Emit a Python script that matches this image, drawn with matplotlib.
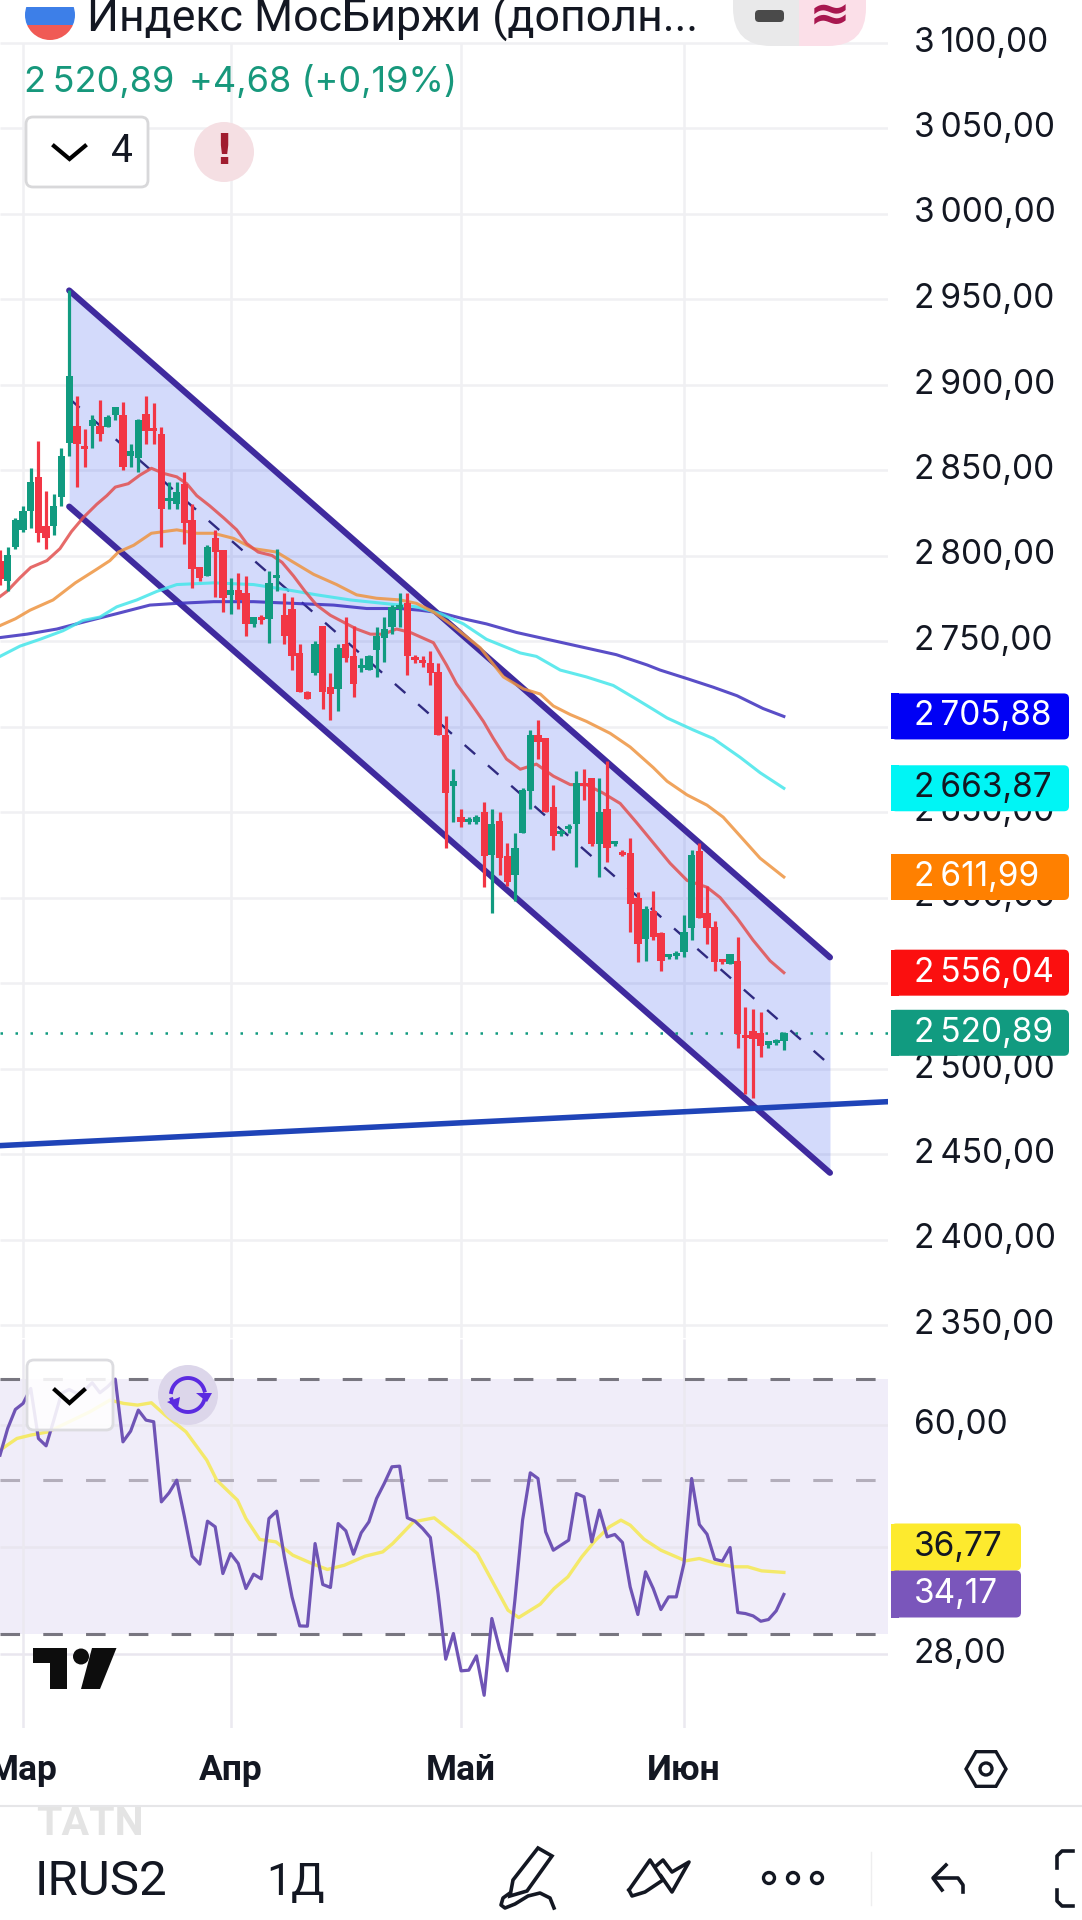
import numpy as np
import matplotlib
matplotlib.use("Agg")
import matplotlib.pyplot as plt
from matplotlib.patches import Circle, FancyBboxPatch, Polygon, Rectangle, RegularPolygon
from matplotlib.ticker import NullLocator

# Daily candles, IMOEX additional session
opens = [2797,2785,2805,2815,2826,2846,2817,2817,2834,2866,
         2876,2863,2876,2876,2875,2882,2882,2858,2857,2883,
         2874,2871,2832,2830,2842,2821,2793,2788,2810,2803,
         2777,2780,2778,2760,2763,2763,2787,2765,2769,2743,
         2720,2731,2759,2723,2722,2748,2741,2734,2733,2745,
         2752,2758,2769,2772,2740,2738,2737,2732,2695,2665,
         2647,2644,2644,2650,2625,2645,2624,2613,2638,2662,
         2695,2693,2653,2637,2640,2643,2667,2670,2631,2652,
         2631,2626,2626,2600,2576,2592,2579,2565,2566,2568,
         2582,2627,2591,2583,2563,2561,2563,2519,2522,2521,
         2514,2515,2516.21]
closes = [2786,2800,2821,2826,2843,2813,2810,2829,2858,2905,
          2865,2862,2879,2871,2881,2887,2852,2861,2879,2873,
          2873,2827,2833,2837,2819,2792,2787,2805,2802,2775,
          2780,2774,2760,2764,2762,2784,2788,2753,2741,2720,
          2716,2748,2720,2719,2746,2740,2725,2735,2741,2753,
          2757,2770,2770,2741,2739,2737,2731,2695,2661,2668,
          2644,2646,2647,2624,2643,2623,2609,2629,2663,2695,
          2691,2650,2636,2638,2641,2667,2665,2631,2650,2629,
          2632,2625,2596,2573,2593,2577,2563,2566,2567,2580,
          2625,2588,2582,2562,2562,2567,2520,2518,2517,2513,
          2514.5,2516,2520.89]
highs = [2803,2805,2822,2829,2851,2867,2838,2836,2863,2955,
         2893,2874,2882,2891,2882,2887,2890,2865,2880,2893,
         2889,2875,2843,2843,2849,2830,2793,2806,2815,2803,
         2787,2790,2788,2764,2765,2791,2804,2778,2776,2748,
         2721,2750,2759,2731,2748,2764,2759,2740,2742,2758,
         2764,2771,2778,2778,2742,2741,2744,2737,2706,2675,
         2652,2647,2648,2656,2652,2650,2632,2638,2664,2698,
         2704,2693,2666,2640,2643,2674,2675,2670,2670,2680,
         2633,2628,2635,2603,2595,2604,2580,2567,2569,2590,
         2628,2632,2607,2586,2564,2567,2577,2536,2535,2533,
         2516,2517,2521.5]
lows = [2783,2779,2804,2814,2816,2808,2804,2812,2829,2858,
        2840,2852,2863,2867,2875,2879,2850,2852,2849,2865,
        2865,2805,2827,2827,2807,2781,2785,2788,2776,2767,
        2766,2769,2753,2758,2760,2749,2779,2748,2733,2720,
        2716,2730,2710,2704,2709,2738,2717,2732,2733,2729,
        2738,2754,2758,2730,2737,2735,2724,2695,2629,2644,
        2641,2643,2643,2606,2591,2613,2607,2598,2638,2652,
        2681,2650,2628,2636,2638,2618,2657,2630,2612,2621,
        2630,2624,2580,2562,2563,2575,2557,2564,2564,2565,
        2575,2588,2573,2557,2561,2561,2512,2485,2483,2507,
        2512,2514,2511]

# Moving averages, (bar, value)
ma_red_x = [0,0.9,2.6,4,6.1,7.8,9.3,10.8,12.6,13.9,15,16.7,18.2,19.7,21.3,23,24.3,25.6,27.3,29.1,
            30.8,32.1,33.6,35.4,36.7,38.2,39.7,41.2,43,44.7,46.4,48.2,49.9,51.6,53.4,56.4,58.1,59.4,
            61.2,62.9,64.2,65.9,67.7,69.8,72,74.2,76.3,78.5,80.7,82.8,85,87.2,89.4,92,93.7,95.9,98,100.2,102]
ma_red_y = [2776,2779,2787,2793,2797,2804,2814,2822,2830,2835,2840,2842,2847,2851,2848,2846,2842,2835,2829,2822,
            2815,2807,2802,2800,2796,2788,2779,2771,2765,2761,2757,2754,2754,2757,2755,2749,2736,2725,
            2714,2703,2693,2681,2675,2678,2671,2666,2666,2661,2655,2644,2632,2620,2610,2606,2600,2588,2575,2563,2556.04]
ma_orange_x = [0,2,3.9,6.9,9.8,12.6,14.3,15.4,17.4,19.7,23,25.6,27.8,30.4,33,36,38.2,40.8,43.8,46.4,49,52.1,54.2,
               56.4,58.6,62.5,65.5,68.1,70.3,72,74.2,76.3,79.4,82,85,86.8,89.4,92,94.1,96.3,98.9,102]
ma_orange_y = [2759,2763,2768,2774,2784,2792,2797,2802,2806,2813,2815,2813,2813,2810,2804,2802,2796,2789,2783,2777,2775,2774,2772,
               2767,2760,2746,2729,2722,2719,2712,2707,2703,2696,2688,2676,2668,2660,2654,2647,2636,2623,2611.99]
ma_cyan_x = [0,2.6,5.2,8.2,10.8,13,15.2,17.8,20.4,23,27.8,33,37.3,41.2,45.6,49.9,54.2,57.3,60.3,63.3,67.7,69.8,
             72.9,76.3,79.8,82.8,85,86.8,90.2,92.8,96.3,98.9,102]
ma_cyan_y = [2741,2747,2751,2756,2762,2764,2770,2774,2779,2783,2784,2783,2780,2777,2774,2772,2770,2766,2760,2751,2743,2741,
             2733,2729,2724,2716,2710,2705,2698,2693,2682,2673,2663.87]
ma_blue_x = [0,3.5,7.4,10.8,15.2,19.5,23,27.8,33,38.2,43.4,47.7,52.1,54.65,57.3,60.3,63.3,67.2,70.7,74.2,77.2,
             80.2,84.2,85.9,89.4,92.8,95.9,99.3,102]
ma_blue_y = [2752,2754,2757,2761,2766,2771,2772,2773,2773,2772,2771,2769,2769,2768,2766.5,2763,2760,2755,2751.5,2748,2745,
             2742,2736,2733,2728,2723,2718,2710.5,2705.88]

# Drawn channel and support line
channel_x = [9, 108]
channel_top = [2955, 2565]
channel_low = [2828.6, 2439]
channel_mid = [2891.8, 2502]
support_x = [0, 115.55]
support_y = [2454.9, 2480.6]

price_ticks = [3100,3050,3000,2950,2900,2850,2800,2750,2700,2650,2600,2550,2500,2450,2400,2350]
# these two sit fully under the value tags
covered_ticks = [2700, 2550]
month_bars = [3, 30, 60, 89]
month_labels = ["Мар", "Апр", "Май", "Июн"]

# RSI and its average
rsi = [54.34,59.39,63.27,64.55,67.86,57.44,56.05,61.06,66.73,67.63,66.73,67.48,69.15,66.89,68.24,70,56.8,58.86,63.13,61.06,
       60.73,46.51,47.93,49.99,44.25,38.81,37.79,43.61,42.8,36.63,39.16,37.88,34.85,36.55,35.99,44.0,45.09,38.72,33.89,30.77,
       30.74,40.48,35.32,34.97,43.27,42.23,39.07,41.95,43.51,47.03,49.45,52.27,52.38,44.1,43.61,42.56,41.3,34.27,27.54,30.0,
       26.49,26.55,27.85,24.42,31.54,28.53,26.49,33.52,43.76,51.23,50.27,42.09,39.59,40.26,40.94,47.82,47.29,40.71,45.24,41.39,
       41.72,40.62,35.04,31.96,36.84,34.85,32.49,33.89,33.89,37.88,50.27,43.13,41.76,38.42,38.17,39.95,32.17,32.06,31.81,31.25,
       31.43,32.35,34.17]
rsi_ma_x = [0,2.2,4,6.3,9,11.7,14.3,16.1,17.9,19.7,21.5,24.2,26.9,28.2,30.9,32,33.8,35.9,38.1,40.8,42.6,44.8,47.5,49.8,51.1,
            53.8,56.5,59.6,62.1,64.1,66.1,67.5,70.3,72.1,73.9,75.7,77.5,79.3,80.8,82,83.8,86,89.2,91,93.2,95.5,97.3,99.1,102]
rsi_ma_y = [55.25,57.44,58.09,58.73,60.73,62.78,65.27,64.55,64.19,64.69,62.08,58.73,53.45,49.99,46.77,44.0,41.03,40.71,38.94,37.79,37.13,37.66,38.81,39.37,40.48,
            43.51,44.1,41.39,39.16,35.63,32.42,31.64,33.08,34.85,36.23,38.72,40.94,42.8,43.76,43.04,41.07,39.59,38.21,38.51,37.88,37.46,37.46,36.96,36.77]
rsi_ticks = [60, 40, 28]
rsi_tick_labels = ["60,00", "", "28,00"]

GREEN = "#119b80"
RED = "#f23645"
INK = "#131722"
GRID = "#f0f0f3"
NUM_FONT = ["Inter", "DejaVu Sans"]

fig = plt.figure(figsize=(10.82, 19.2), dpi=100)


def fmt_price(p):
    s = "%.2f" % p
    s = s.replace(".", ",")
    return s[0] + "\u2009" + s[1:]


# Price pane
ax = fig.add_axes([0, 1 - 1338 / 1920, 888 / 1082, 1338 / 1920])
ax.set_xlim(0, 115.55)
ax.set_ylim(2950 - (1338 - 299) / 1.71, 2950 + 299 / 1.71)
for s in ax.spines.values():
    s.set_visible(False)
ax.set_yticks(price_ticks)
ax.set_yticklabels(["" if p in covered_ticks else fmt_price(p) for p in price_ticks],
                   fontsize=24, family=NUM_FONT, color=INK, ha="left", va="center")
ax.yaxis.tick_right()
ax.tick_params(axis="y", length=0, pad=18.5)
ax.set_xticks([])
ax.hlines(price_ticks, 0, 115.55, color=GRID, lw=1.8, zorder=0)
ax.vlines(month_bars, ax.get_ylim()[0], 3100, color=GRID, lw=1.8, zorder=0)

ax.fill_between(channel_x, channel_low, channel_top, color="#3355ee", alpha=0.215, lw=0, zorder=1)
ax.plot(channel_x, channel_mid, color="#2f2a80", lw=1.7, dashes=(5.9, 7.2), zorder=2)
ax.plot(channel_x, channel_top, color="#3f2a9e", lw=4.4, solid_capstyle="round", zorder=3)
ax.plot(channel_x, channel_low, color="#3f2a9e", lw=4.4, solid_capstyle="round", zorder=3)
ax.plot(support_x, support_y, color="#1f44b8", lw=4.0, zorder=3)
ax.hlines(closes[-1], 0, 115.55, color=GREEN, lw=1.8, linestyles=(0, (1, 5)), zorder=3)

ax.plot(ma_blue_x, ma_blue_y, color="#3d2fbe", lw=2.2, alpha=0.85, zorder=4)
ax.plot(ma_cyan_x, ma_cyan_y, color="#45e6ea", lw=2.2, alpha=0.85, zorder=4)
ax.plot(ma_orange_x, ma_orange_y, color="#ee9440", lw=2.2, alpha=0.85, zorder=4)
ax.plot(ma_red_x, ma_red_y, color="#e2504f", lw=2.2, alpha=0.85, zorder=4)

# candles on top of everything but the tags
for i in range(len(opens)):
    c = GREEN if closes[i] >= opens[i] else RED
    ax.vlines(i, lows[i], highs[i], color=c, lw=2.3, zorder=5)
    top = max(opens[i], closes[i])
    bot = min(opens[i], closes[i])
    ax.bar(i, max(top - bot, 1.8), bottom=bot, width=0.95, color=c, lw=0, zorder=6)

# RSI pane, log scale like the chart setting
ax2 = fig.add_axes([0, 1 - 1728 / 1920, 888 / 1082, (1728 - 1339) / 1920])
ax2.set_yscale("log")
ax2.set_xlim(0, 115.55)
ax2.set_ylim(21.9, 80.0)
for s in ax2.spines.values():
    s.set_visible(False)
ax2.yaxis.set_minor_locator(NullLocator())
ax2.set_yticks(rsi_ticks)
ax2.set_yticklabels(rsi_tick_labels, fontsize=24, family=NUM_FONT, color=INK, ha="left", va="center")
ax2.yaxis.tick_right()
ax2.tick_params(axis="y", length=0, pad=18.5)
ax2.yaxis.set_minor_locator(NullLocator())
ax2.set_xticks(month_bars)
ax2.set_xticklabels(month_labels, fontsize=25.5, family=["Roboto", "DejaVu Sans"], weight="bold", color=INK)
ax2.tick_params(axis="x", length=0, pad=19)
ax2.axhspan(30, 70, color="#f0edf9", lw=0, zorder=0)
ax2.hlines(rsi_ticks, 0, 115.55, color="#e9e6ef", lw=1.8, zorder=1)
ax2.vlines(month_bars, 21.9, 80, color="#ebe9f0", lw=1.8, zorder=1)
ax2.hlines([70, 30], 0, 115.55, color="#787680", lw=2.2, linestyles=(0, (6.4, 7.6)), zorder=2)
ax2.hlines(50, 0, 115.55, color="#b3aebb", lw=2.2, linestyles=(0, (6.4, 7.6)), zorder=2)
ax2.plot(rsi_ma_x, rsi_ma_y, color="#f4e96a", lw=2.4, zorder=3)
ax2.plot(range(len(rsi)), rsi, color="#6f54b5", lw=2.3, zorder=4)

# Screen overlay in pixel units: tags, header, toolbar
ui = fig.add_axes([0, 0, 1, 1], facecolor="none")
ui.set_xlim(0, 1082)
ui.set_ylim(1920, 0)
ui.axis("off")


def tag(x0, x1, yc, h, text, face, tc):
    ui.add_patch(FancyBboxPatch((x0, yc - h / 2 + 4), x1 - x0 - 4, h - 8, boxstyle="round,pad=4,rounding_size=5", fc=face, ec="none", zorder=5))
    ui.add_patch(Rectangle((x0 - 4, yc - h / 2), 8, h, fc=face, ec="none", zorder=5))
    ui.text(914, yc, text, color=tc, fontsize=24, family=NUM_FONT, ha="left", va="center", zorder=6)


def px_y(p):
    return 1920 - ax.transData.transform((0, p))[1]


fig.canvas.draw()
last_tags = [(ma_blue_y[-1], "#0000f5", "white"), (ma_cyan_y[-1], "#00f5f5", INK),
             (ma_orange_y[-1], "#ff8000", "white"), (ma_red_y[-1], "#fb0f0f", "white"),
             (closes[-1], GREEN, "white")]
for val, face, tc in last_tags:
    tag(895, 1069, px_y(val), 46, fmt_price(val), face, tc)
tag(895, 1021, 1547, 47, "36,77", "#fdea2e", INK)
tag(895, 1021, 1594, 47, "34,17", "#7a56bb", "white")

# header
flag = Circle((50, 15), 25, fc="none", ec="none")
ui.add_patch(flag)
for y0, y1, col in [(-15, 7, "white"), (7, 25, "#3d7fe8"), (25, 45, "#f05a55")]:
    r = Rectangle((20, y0), 60, y1 - y0, fc=col, ec="none", zorder=4)
    ui.add_patch(r)
    r.set_clip_path(flag)
ui.text(87, 32, "Индекс МосБиржи (дополн...", color=INK, fontsize=32.2, family=["Roboto", "DejaVu Sans"], va="baseline")
ui.text(24, 92, "2\u2009520,89", color="#17987c", fontsize=26, family=NUM_FONT, va="baseline")
ui.text(189, 92, "+4,68 (+0,19%)", color="#17987c", fontsize=26, family=NUM_FONT, va="baseline")

pill = FancyBboxPatch((733, -40), 133, 86, boxstyle="round,pad=0,rounding_size=38", fc="none", ec="none")
ui.add_patch(pill)
for x0, x1, col in [(733, 799, "#e9e9ea"), (799, 866, "#fbdfe8")]:
    r = Rectangle((x0, -40), x1 - x0, 86, fc=col, ec="none", zorder=4)
    ui.add_patch(r)
    r.set_clip_path(pill)
ui.add_patch(FancyBboxPatch((757, 12), 25, 8, boxstyle="round,pad=2,rounding_size=4", fc="#4a4a4a", ec="none", zorder=5))
ui.text(830, 16, "≈", color="#a8174f", fontsize=36, weight="bold", ha="center", va="center", zorder=5, family="DejaVu Sans")

ui.add_patch(FancyBboxPatch((28, 119), 118, 66, boxstyle="round,pad=2,rounding_size=7", fc="white", ec="#d8d8da", lw=2, zorder=4))
ui.plot([54, 69.5, 85], [146, 159, 146], color="black", lw=3, zorder=5, solid_joinstyle="miter")
ui.text(122, 152, "4", color=INK, fontsize=28, family=["Roboto"], ha="center", va="center", zorder=5)
ui.add_patch(Circle((224, 152), 30, fc="#f5dfe3", ec="none", zorder=4))
ui.text(224, 152, "!", color="#a01c2f", fontsize=30, weight="bold", family="DejaVu Sans", ha="center", va="center", zorder=5)

# RSI pane controls and logo
ui.add_patch(FancyBboxPatch((29, 1362), 82, 66, boxstyle="round,pad=2,rounding_size=7", fc=(1, 1, 1, 0.88), ec="#dcdce0", lw=2, zorder=4))
ui.plot([55, 69.5, 84], [1390, 1403, 1390], color="black", lw=3, zorder=5, solid_joinstyle="miter")
ui.add_patch(Circle((188, 1395), 30, fc="#dcd6ea", ec="none", zorder=4))
t = np.linspace(np.radians(190), np.radians(345), 30)
ui.plot(188 + 17 * np.cos(t), 1395 + 17 * np.sin(t), color="#5b2be0", lw=2.8, zorder=5)
t = np.linspace(np.radians(15), np.radians(165), 30)
ui.plot(188 + 17 * np.cos(t), 1395 + 17 * np.sin(t), color="#5b2be0", lw=2.8, zorder=5)
ui.add_patch(Polygon([[196, 1393], [212, 1393], [207, 1402]], fc="#5b2be0", ec="none", zorder=5))
ui.add_patch(Polygon([[167, 1402], [180, 1397], [178, 1408]], fc="#5b2be0", ec="none", zorder=5))

ui.add_patch(Polygon([[33, 1648], [66.5, 1648], [66.5, 1689], [50, 1689], [50, 1663], [33, 1663]], fc="#0d0d0d", ec="none", zorder=5))
ui.add_patch(Circle((81, 1656.5), 8, fc="#0d0d0d", ec="none", zorder=5))
ui.add_patch(Polygon([[92, 1648], [116.5, 1648], [100, 1689], [81, 1689]], fc="#0d0d0d", ec="none", zorder=5))

# bottom toolbar
ui.text(36, 1835, "TATN", color="#e4e4e4", fontsize=29.5, weight="bold", family=["Roboto"], va="baseline", zorder=2)
ui.plot([0, 1082], [1806, 1806], color="#e6e6e8", lw=1.5, zorder=4)
ui.text(35, 1895, "IRUS2", color=INK, fontsize=35.5, family=["Roboto"], va="baseline")
ui.text(266, 1895, "1Д", color=INK, fontsize=32, family=["Roboto"], va="baseline")

# hexagon settings icon
ui.add_patch(RegularPolygon((986, 1769), 6, radius=20, orientation=np.pi / 6, fc="none", ec=INK, lw=2.4, zorder=5))
ui.add_patch(Circle((986, 1769), 6, fc="none", ec=INK, lw=2.4, zorder=5))

# pencil
ui.add_patch(Polygon([[513, 1880], [538, 1848], [552, 1856], [527, 1891], [510, 1896]], closed=True, fc="white", ec=INK, lw=2.6))
ui.plot([510, 503, 501, 505, 515, 528, 540, 550, 554], [1893, 1898, 1905, 1908, 1904, 1896, 1893, 1898, 1908], color=INK, lw=2.6)
# zigzag
ui.plot([629, 650, 663, 645, 632, 629], [1890, 1860, 1880, 1892, 1896, 1890], color=INK, lw=2.6)
ui.plot([656, 663, 672, 689, 672, 661], [1866, 1860, 1872, 1862, 1892, 1876], color=INK, lw=2.6)
# dots
for xc in (769, 793, 817):
    ui.add_patch(Circle((xc, 1878), 5.5, fc="none", ec=INK, lw=2.4))
ui.plot([871, 871], [1852, 1905], color="#eeeeef", lw=1)
# undo arrow
ui.plot([963, 963, 958, 935], [1892, 1885, 1878, 1878], color=INK, lw=2.6)
ui.plot([946, 933, 942], [1865, 1878, 1890], color=INK, lw=2.6)
# fullscreen bracket, runs off the edge
ui.plot([1073, 1062, 1057, 1057], [1851, 1851, 1856, 1868], color=INK, lw=2.6)
ui.plot([1073, 1062, 1057, 1057], [1906, 1906, 1901, 1890], color=INK, lw=2.6)

fig.savefig("out.png", dpi=100)
